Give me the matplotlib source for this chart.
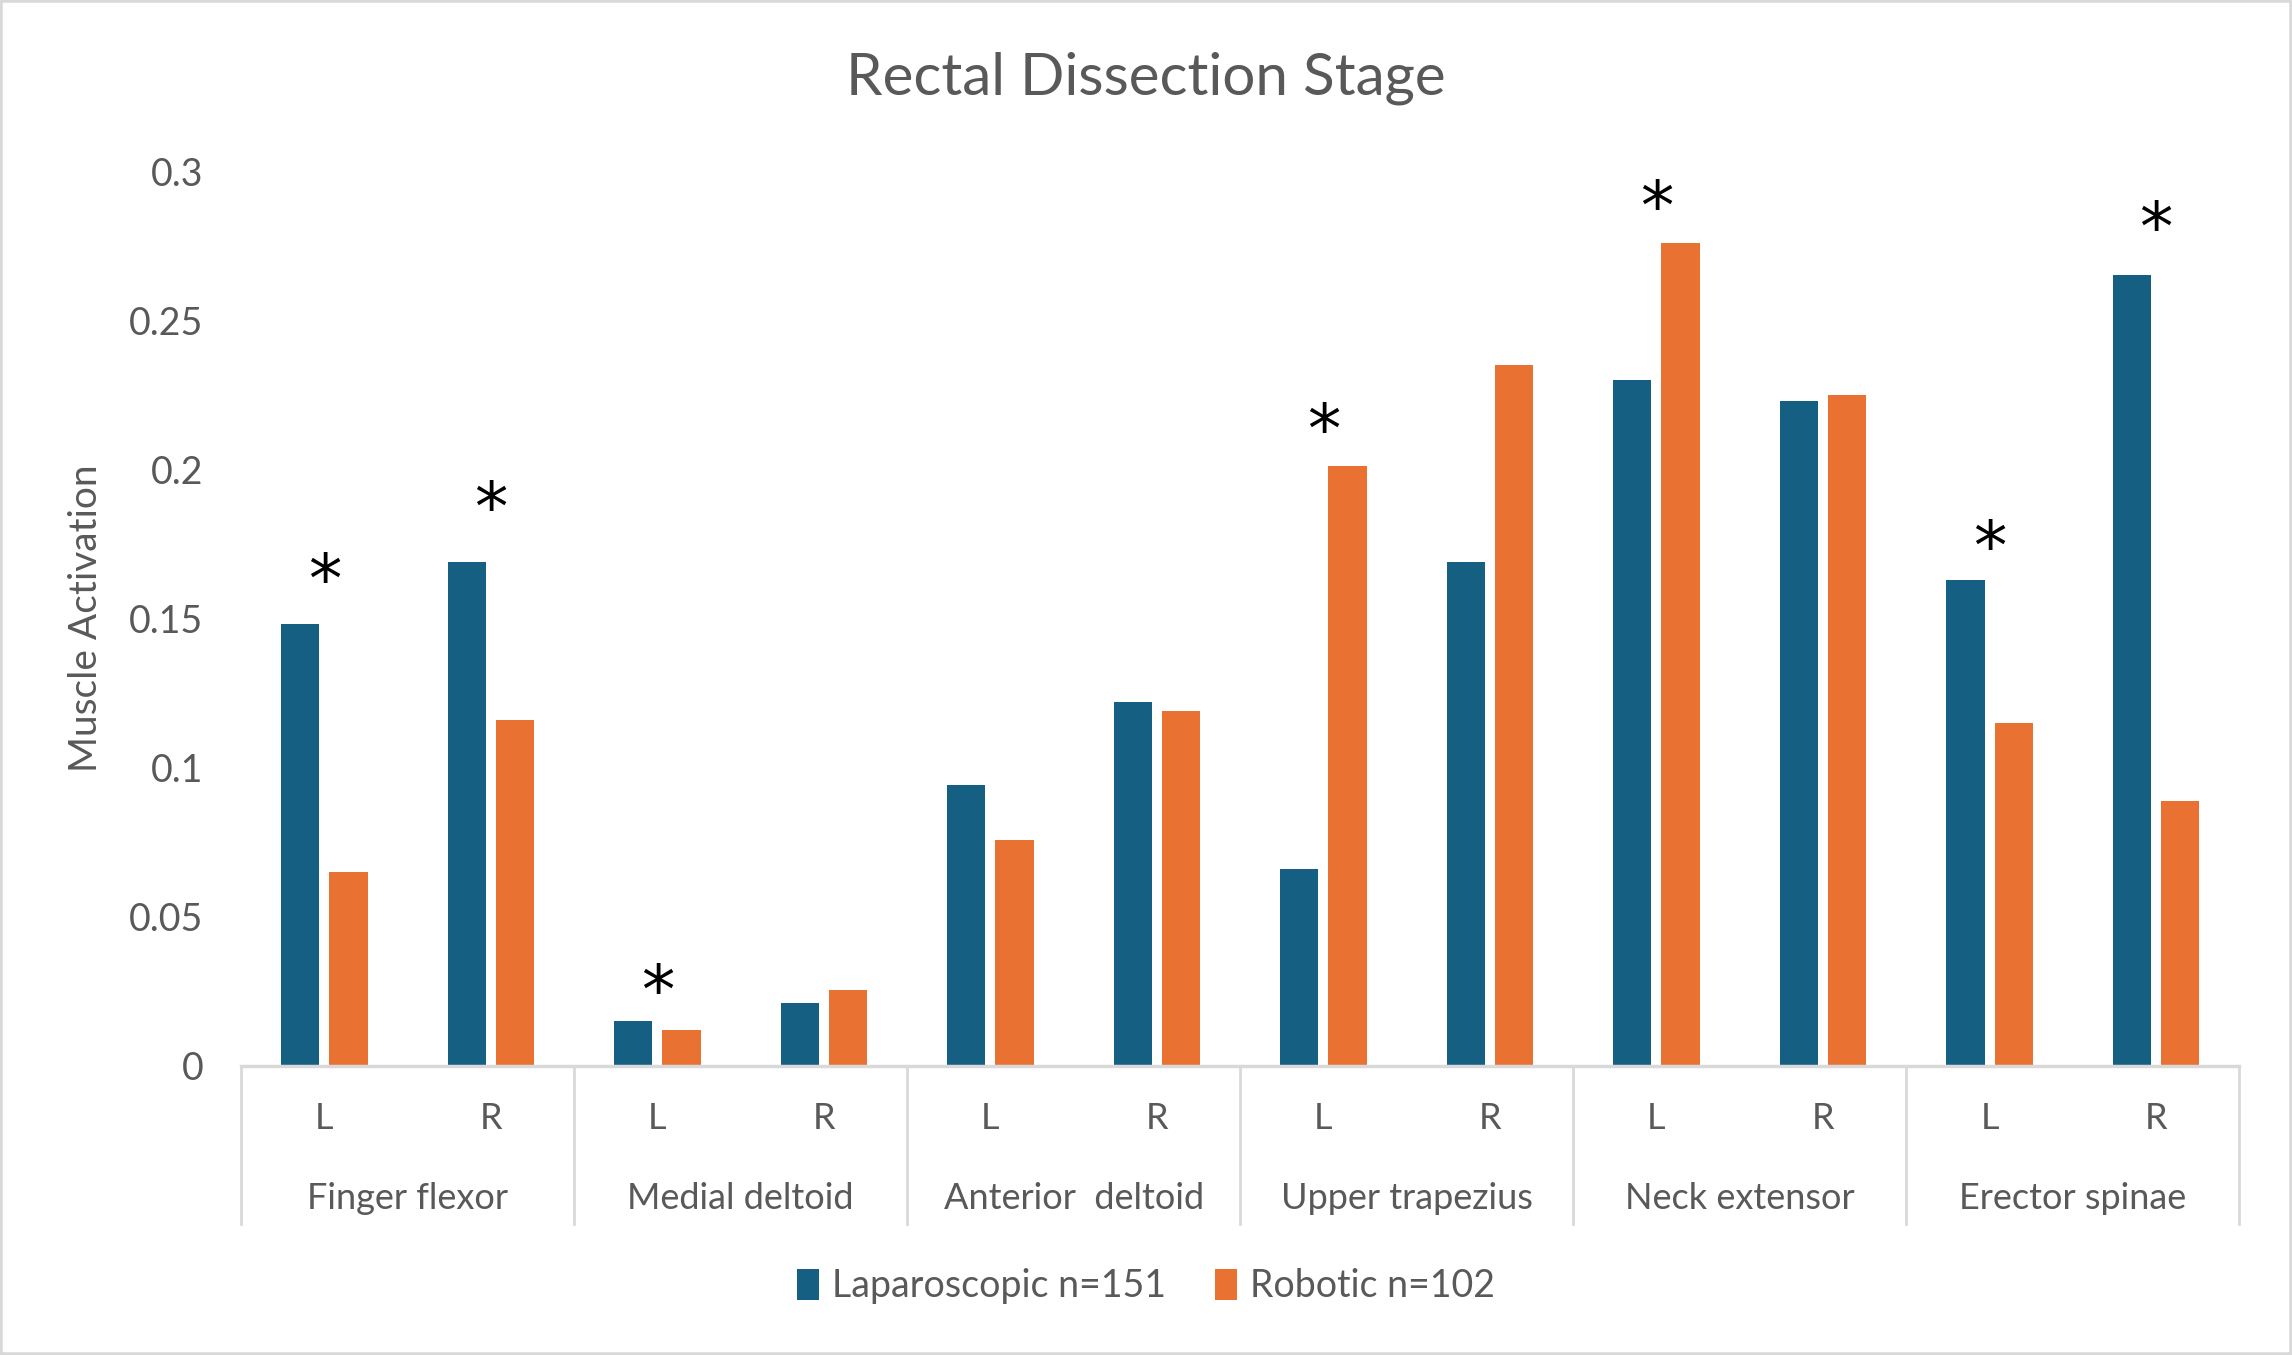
import numpy as np
import matplotlib.pyplot as plt
from matplotlib.transforms import blended_transform_factory
from matplotlib.lines import Line2D
from matplotlib.patches import Rectangle

plt.rcParams['font.family'] = ['Lato', 'DejaVu Sans']

# data
groups = ['Finger flexor', 'Medial deltoid', 'Anterior  deltoid', 'Upper trapezius',
          'Neck extensor', 'Erector spinae']
sides = ['L', 'R']
laparoscopic = [0.148, 0.169, 0.015, 0.021, 0.094, 0.122, 0.066, 0.169, 0.230, 0.223, 0.163, 0.265]
robotic = [0.065, 0.116, 0.012, 0.0255, 0.0755, 0.119, 0.201, 0.235, 0.276, 0.225, 0.115, 0.0887]
# significance stars: slot index and height
star_slots = [0, 1, 2, 6, 8, 10, 11]
star_heights = [0.162, 0.186, 0.024, 0.212, 0.287, 0.173, 0.280]
lap_label = 'Laparoscopic n=151'
rob_label = 'Robotic n=102'

blue = '#156082'
orange = '#E97132'
txt = '#595959'
grey = '#D9D9D9'

fig = plt.figure(figsize=(22.92, 13.55), dpi=100)
ax = fig.add_axes([0.1052, 0.2136, 0.9770 - 0.1052, 0.8738 - 0.2136])

n = len(laparoscopic)
x = np.arange(n)
w = 0.23
off = 0.145
b1 = ax.bar(x - off, laparoscopic, width=w, color=blue, label=lap_label, zorder=2)
b2 = ax.bar(x + off, robotic, width=w, color=orange, label=rob_label, zorder=2)

for s, h in zip(star_slots, star_heights):
    ax.text(s, h, '*', ha='center', va='center', fontsize=48, color='black',
            family='DejaVu Sans', clip_on=False)

ax.set_xlim(-0.5, n - 0.5)
ax.set_ylim(0, 0.3)
ax.set_yticks(np.arange(0, 0.31, 0.05))
ax.set_yticklabels(['0', '0.05', '0.1', '0.15', '0.2', '0.25', '0.3'])
ax.tick_params(axis='y', length=0, pad=27, labelsize=27, labelcolor=txt)
ax.set_xticks([])
for sp in ['left', 'right', 'top']:
    ax.spines[sp].set_visible(False)
ax.spines['bottom'].set_color(grey)
ax.spines['bottom'].set_linewidth(2.5)
ax.set_ylabel('Muscle Activation', fontsize=28, color=txt, labelpad=18)

# two-level category axis drawn below the plot
tr = blended_transform_factory(ax.transData, fig.transFigure)
for i in x:
    ax.text(i, 0.1748, sides[i % 2], transform=tr, ha='center', va='center',
            fontsize=26, color=txt)
for g, name in enumerate(groups):
    ax.text(2 * g + 0.5, 0.1154, name, transform=tr, ha='center', va='center',
            fontsize=26, color=txt)
for g in range(len(groups) + 1):
    xe = 2 * g - 0.5
    fig.add_artist(Line2D([xe, xe], [0.097, 0.2136], transform=tr, color=grey, lw=2))

fig.suptitle('Rectal Dissection Stage', x=0.5, y=0.942, va='center', fontsize=42, color=txt)

leg = fig.legend(handles=[b1, b2], loc='center', bbox_to_anchor=(0.5, 0.0507), ncol=2,
                 frameon=False, fontsize=27, handlelength=0.6, handleheight=0.9,
                 handletextpad=0.35, columnspacing=1.3)
for t in leg.get_texts():
    t.set_color(txt)

fig.add_artist(Rectangle((0, 0), 1, 1, transform=fig.transFigure, fill=False,
                         edgecolor=grey, lw=4))

fig.savefig('out.png', dpi=100)
